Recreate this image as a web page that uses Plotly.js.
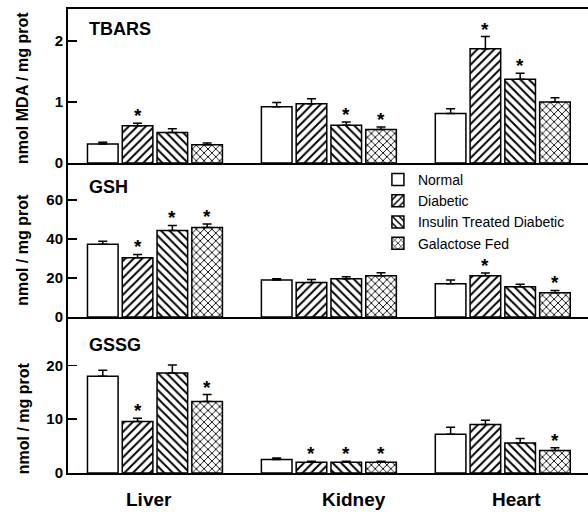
<!DOCTYPE html>
<html>
<head>
<meta charset="utf-8">
<script src="https://cdn.plot.ly/plotly-3.0.1.min.js"></script>
<style>html,body{margin:0;padding:0;background:#fff;}#chart{width:588px;height:514px;}</style>
</head>
<body>
<div id="chart"></div>
<script>
// ---------- data ----------
const categories = ['Liver', 'Kidney', 'Heart'];
const seriesNames = ['Normal', 'Diabetic', 'Insulin Treated Diabetic', 'Galactose Fed'];

// TBARS (nmol MDA / mg prot): one row per series, columns = Liver, Kidney, Heart
const tbarsMean = [[0.31, 0.92, 0.81], [0.61, 0.97, 1.87], [0.50, 0.62, 1.37], [0.30, 0.55, 1.00]];
const tbarsErr  = [[0.03, 0.07, 0.08], [0.04, 0.08, 0.20], [0.06, 0.05, 0.10], [0.03, 0.04, 0.07]];
const tbarsSig  = [[0, 0, 0], [1, 0, 1], [0, 1, 1], [0, 1, 0]];

// GSH (nmol / mg prot)
const gshMean = [[37.4, 19.0, 17.1], [30.4, 17.8, 21.2], [44.4, 19.7, 15.6], [46.0, 21.2, 12.5]];
const gshErr  = [[1.5, 0.7, 1.9], [1.7, 1.5, 1.4], [2.6, 1.0, 1.3], [1.7, 1.5, 1.2]];
const gshSig  = [[0, 0, 0], [1, 0, 1], [1, 0, 0], [1, 0, 1]];

// GSSG (nmol / mg prot)
const gssgMean = [[18.0, 2.5, 7.2], [9.6, 2.0, 9.0], [18.6, 2.0, 5.6], [13.3, 2.0, 4.2]];
const gssgErr  = [[1.1, 0.3, 1.3], [0.6, 0.2, 0.8], [1.5, 0.2, 0.8], [1.3, 0.2, 0.5]];
const gssgSig  = [[0, 0, 0], [1, 1, 0], [0, 1, 0], [1, 1, 1]];

// ---------- styling ----------
const patterns = [
  {shape: '', fgcolor: '#000', bgcolor: '#fff'},
  {shape: '/', fgcolor: '#000', bgcolor: '#fff', size: 6, solidity: 0.32},
  {shape: '\\', fgcolor: '#000', bgcolor: '#fff', size: 6, solidity: 0.32},
  {shape: 'x', fgcolor: '#000', bgcolor: '#fff', size: 5.5, solidity: 0.3}
];
const FONT = 'Arial, "Liberation Sans", sans-serif';
const BARGAP = 0.2, GROUPGAP = 0.12;

const panels = [
  {mean: gssgMean, err: gssgErr, sig: gssgSig, xa: 'x', ya: 'y'},
  {mean: gshMean, err: gshErr, sig: gshSig, xa: 'x2', ya: 'y2'},
  {mean: tbarsMean, err: tbarsErr, sig: tbarsSig, xa: 'x3', ya: 'y3'}
];

const traces = [];
const annotations = [];
panels.forEach((p, pi) => {
  seriesNames.forEach((name, si) => {
    traces.push({
      type: 'bar',
      name: name,
      x: categories,
      y: p.mean[si],
      xaxis: p.xa, yaxis: p.ya,
      legendgroup: name,
      showlegend: pi === 2,
      marker: {color: '#fff', line: {color: '#000', width: 1.5}, pattern: patterns[si]},
      error_y: {type: 'data', symmetric: false, array: p.err[si], arrayminus: p.err[si].map(() => 0),
                color: '#000', thickness: 1.5, width: 4.5}
    });
    // significance asterisks above error bars
    p.sig[si].forEach((s, ci) => {
      if (!s) return;
      annotations.push({
        xref: p.xa, yref: p.ya,
        x: ci + (si - 1.5) * (1 - BARGAP) / 4,
        y: p.mean[si][ci] + p.err[si][ci],
        text: '*', showarrow: false, yanchor: 'bottom', yshift: -5,
        font: {family: FONT, size: 19, weight: 'bold', color: '#000'}
      });
    });
  });
});

// panel labels
[['TBARS', 0.957], ['GSH', 0.616], ['GSSG', 0.276]].forEach(([t, y]) => {
  annotations.push({xref: 'paper', yref: 'paper', x: 0.036, y: y, xanchor: 'left', yanchor: 'middle',
    text: t, showarrow: false, font: {family: FONT, size: 18, weight: 'bold', color: '#000'}});
});
// y titles
[['nmol MDA / mg prot', 0.830], ['nmol / mg prot', 0.481], ['nmol / mg prot', 0.118]].forEach(([t, y]) => {
  annotations.push({xref: 'paper', yref: 'paper', x: -0.0865, y: y, xanchor: 'center', yanchor: 'middle',
    textangle: -90, text: t, showarrow: false, font: {family: FONT, size: 16, weight: 'bold', color: '#000'}});
});
// category labels
const catShift = [-6, 25, 14];
categories.forEach((c, ci) => {
  annotations.push({xref: 'x', yref: 'paper', x: ci, y: -0.058, xshift: catShift[ci], yanchor: 'middle',
    text: c, showarrow: false, font: {family: FONT, size: 19, weight: 'bold', color: '#000'}});
});

const xBase = {type: 'category', range: [-0.5, 2.49], showline: true, linecolor: '#000', linewidth: 2,
  ticks: '', showticklabels: false, showgrid: false, zeroline: false, fixedrange: true};
const yBase = {showline: true, linecolor: '#000', linewidth: 2, ticks: 'inside', ticklen: 9, tickwidth: 1.5,
  tickcolor: '#000', showgrid: false, zeroline: false,
  tickfont: {family: FONT, size: 15, weight: 'bold', color: '#000'}};

const layout = {
  width: 588, height: 514,
  margin: {l: 68, r: 0, t: 9, b: 41},
  paper_bgcolor: '#fff', plot_bgcolor: '#fff',
  barmode: 'group', bargap: BARGAP, bargroupgap: GROUPGAP,
  font: {family: FONT, color: '#000'},
  xaxis: Object.assign({}, xBase, {anchor: 'y'}),
  xaxis2: Object.assign({}, xBase, {anchor: 'y2', matches: 'x'}),
  xaxis3: Object.assign({}, xBase, {anchor: 'y3', matches: 'x', mirror: true}),
  yaxis: Object.assign({}, yBase, {domain: [0, 0.336], range: [0, 29], tickvals: [0, 10, 20]}),
  yaxis2: Object.assign({}, yBase, {domain: [0.336, 0.668], range: [0, 79], tickvals: [0, 20, 40, 60]}),
  yaxis3: Object.assign({}, yBase, {domain: [0.668, 1], range: [0, 2.52], tickvals: [0, 1, 2]}),
  legend: {x: 0.596, y: 0.666, xanchor: 'left', yanchor: 'top', bgcolor: 'rgba(0,0,0,0)',
    font: {family: FONT, size: 14, color: '#000'}, tracegroupgap: 0, traceorder: 'normal'},
  showlegend: true,
  annotations: annotations
};

Plotly.newPlot('chart', traces, layout, {displayModeBar: false, staticPlot: true});
</script>
</body>
</html>
